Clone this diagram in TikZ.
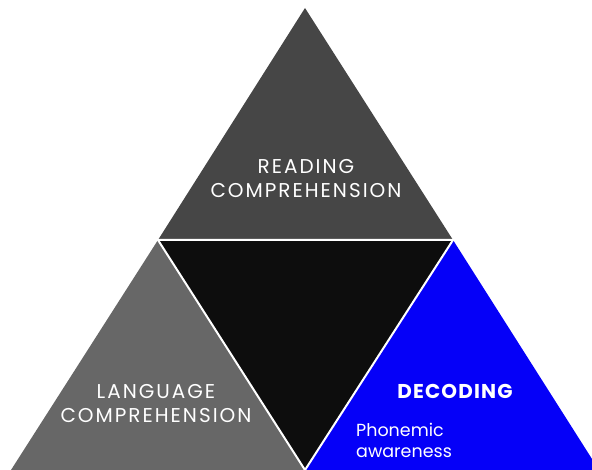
\documentclass[tikz,border=0pt]{standalone}
\usepackage{fontspec}
\setmainfont{Poppins}
\newfontfamily\spacedfont[LetterSpace=10]{Poppins}
\newfontfamily\spacedbold[LetterSpace=6]{Poppins Bold}
\definecolor{topgray}{HTML}{464646}
\definecolor{leftgray}{HTML}{676767}
\definecolor{midblack}{HTML}{0D0D0D}
\definecolor{decblue}{HTML}{0500F8}
\begin{document}
\begin{tikzpicture}[x=1pt,y=-1pt]
    \tikzset{edge/.style = {draw=white,line width=2pt}}
    \tikzset{title/.style = {text=white,align=center,inner sep=0pt,font=\spacedfont\fontsize{20}{24}\selectfont}}
    \tikzset{small/.style = {text=white,align=left,inner sep=0pt,font=\fontsize{17.5}{21}\selectfont}}

    \useasboundingbox (0,0) rectangle (592,470);
    \clip (0,0) rectangle (592,470);

    % corners
    \coordinate (apex) at (305,8);
    \coordinate (ml) at (158,240);
    \coordinate (mr) at (453,240);
    \coordinate (bm) at (305,470);
    \coordinate (bl) at (11,470);
    \coordinate (br) at (599,470);

    % triangles
    \fill[topgray] (apex) -- (ml) -- (mr) -- cycle;
    \fill[leftgray] (ml) -- (bl) -- (bm) -- cycle;
    \fill[decblue] (mr) -- (bm) -- (br) -- cycle;
    \fill[midblack] (ml) -- (mr) -- (bm) -- cycle;
    \draw[edge] (ml) -- (mr) -- (bm) -- cycle;

    % texts
    \node[title] (reading) at (306,179) {READING\\COMPREHENSION};
    \node[title] (language) at (156,404) {LANGUAGE\\COMPREHENSION};
    \node[title,font=\spacedbold\fontsize{20}{24}\selectfont] (decoding) at (455,391) {DECODING};
    \node[small,anchor=west] (phonemic) at (356,440) {Phonemic\\awareness};
\end{tikzpicture}
\end{document}
